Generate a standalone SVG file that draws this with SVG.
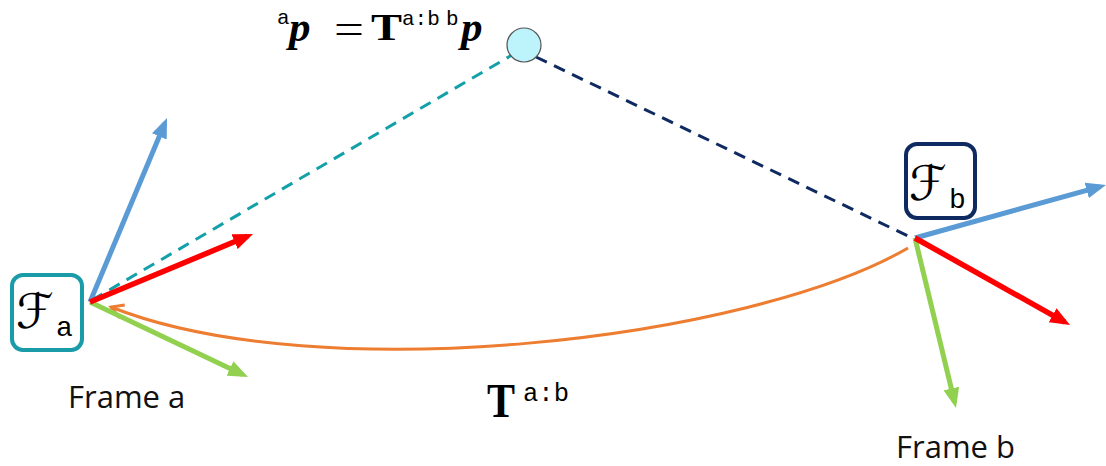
<svg xmlns="http://www.w3.org/2000/svg" width="1106" height="466" viewBox="0 0 1106 466">
<style>
.ax{stroke-width:5;fill:none}
.blue{stroke:#5b9bd5}
.red{stroke:#ff0000;stroke-width:5.5}
.green{stroke:#92d050}
.lbl{font-family:"Open Sans","Liberation Sans",sans-serif;font-size:31px;fill:#111}
.mono{font-family:"Liberation Mono","DejaVu Sans Mono",monospace;fill:#000}
.ser{font-family:"Liberation Serif","DejaVu Serif",serif;fill:#000}
.cal{font-family:"DejaVu Serif","DejaVu Sans",serif;font-style:italic;font-size:48px;fill:#000}
</style>
<defs>
<marker id="mb" markerUnits="userSpaceOnUse" markerWidth="20" markerHeight="16" viewBox="0 0 20 16" refX="14" refY="8" orient="auto"><path d="M0,0 L20,8 L0,16 z" fill="#5b9bd5"/></marker>
<marker id="mr" markerUnits="userSpaceOnUse" markerWidth="20" markerHeight="16" viewBox="0 0 20 16" refX="14" refY="8" orient="auto"><path d="M0,0 L20,8 L0,16 z" fill="#ff0000"/></marker>
<marker id="mg" markerUnits="userSpaceOnUse" markerWidth="20" markerHeight="16" viewBox="0 0 20 16" refX="14" refY="8" orient="auto"><path d="M0,0 L20,8 L0,16 z" fill="#92d050"/></marker>
<marker id="mo" markerUnits="userSpaceOnUse" markerWidth="18" markerHeight="18" viewBox="0 0 18 18" refX="14" refY="9" orient="auto"><path d="M2,2 L14,9 L2,16" fill="none" stroke="#ed7d31" stroke-width="3"/></marker>
</defs>

<g id="connectors">
  <path id="transform-arc" d="M908,248 C750,340 320,390 111,307" fill="none" stroke="#ed7d31" stroke-width="3" marker-end="url(#mo)"/>
  <line x1="92" y1="300" x2="512" y2="55" stroke="#14a0a8" stroke-width="3" stroke-dasharray="12,8"/>
  <line x1="536" y1="57" x2="910" y2="237" stroke="#0e2a60" stroke-width="3" stroke-dasharray="12,8"/>
</g>

<g id="frame-a-axes">
  <line class="ax blue" x1="90" y1="302" x2="164.7" y2="123.5" marker-end="url(#mb)"/>
  <line class="ax green" x1="90" y1="302" x2="242.6" y2="374.4" marker-end="url(#mg)"/>
  <line class="ax red" x1="90" y1="302" x2="247.5" y2="236.3" marker-end="url(#mr)"/>
</g>
<g id="frame-b-axes">
  <line class="ax blue" x1="915" y1="238" x2="1100.2" y2="186.6" marker-end="url(#mb)"/>
  <line class="ax green" x1="915" y1="238" x2="954.6" y2="402.2" marker-end="url(#mg)"/>
  <line class="ax red" x1="915" y1="238" x2="1064.8" y2="322.1" marker-end="url(#mr)"/>
</g>

<g id="point">
  <circle cx="524" cy="45" r="17" fill="#bdf4fc" stroke="#555" stroke-width="1.2"/>
</g>

<g id="equation">
  <text class="mono" x="277" y="24" font-size="21">a</text>
  <text class="ser" x="289" y="41" font-size="43" font-weight="bold" font-style="italic">p</text>
  <text class="ser" x="334" y="43" font-size="42" textLength="30" lengthAdjust="spacingAndGlyphs">=</text>
  <text class="ser" x="371" y="40" font-size="38" font-weight="bold" textLength="31" lengthAdjust="spacingAndGlyphs">T</text>
  <text class="mono" x="402" y="25" font-size="21">a:b</text>
  <text class="mono" x="446" y="25" font-size="21">b</text>
  <text class="ser" x="461" y="41" font-size="43" font-weight="bold" font-style="italic">p</text>
</g>

<g id="frame-a">
  <rect x="12" y="275" width="70" height="75" rx="11" fill="#fff" stroke="#1a9ba8" stroke-width="4"/>
  <text class="cal" x="16" y="328">ℱ</text>
  <text class="mono" x="56" y="336" font-size="28">a</text>
  <text class="lbl" x="68" y="408">Frame a</text>
</g>

<g id="frame-b">
  <rect x="906" y="144" width="69" height="74" rx="11" fill="#fff" stroke="#0e2a60" stroke-width="4"/>
  <text class="cal" x="909" y="200">ℱ</text>
  <text class="mono" x="949" y="208" font-size="28">b</text>
  <text class="lbl" x="896" y="458">Frame b</text>
</g>

<g id="transform-label">
  <text class="ser" x="487" y="417" font-size="48" font-weight="bold" textLength="28" lengthAdjust="spacingAndGlyphs">T</text>
  <text class="mono" x="523" y="401" font-size="25" textLength="46" lengthAdjust="spacingAndGlyphs">a:b</text>
</g>
</svg>
